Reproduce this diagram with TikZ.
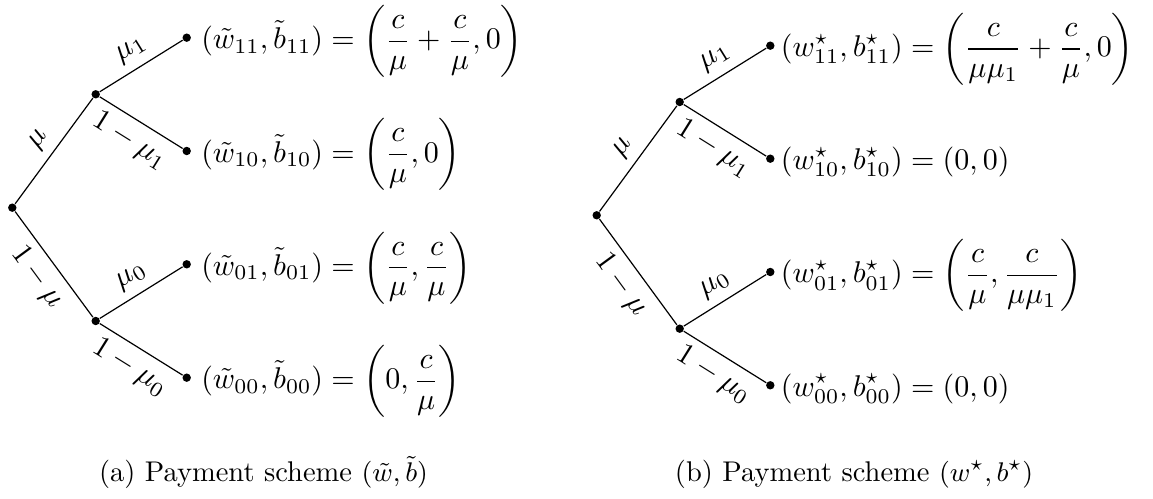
\documentclass[tikz,border=0pt]{standalone}
\usepackage{amsmath}
\begin{document}
\begin{tikzpicture}[x=0.3333pt,y=-0.3333pt,
  dot/.style={circle,fill,inner sep=0pt,minimum size=2.8pt},
  edgelab/.style={inner sep=2.8pt},
  leaftext/.style={anchor=base west,inner sep=0pt},
  captext/.style={anchor=base,inner sep=0pt,font=\fontsize{9.5}{11.5}\selectfont}]
\useasboundingbox (0,0) rectangle (1153,499);
% ---------- left tree ----------
\node[dot] (lr) at (12.3,207.7) {};
\node[dot] (lu) at (95.7,94.3) {};
\node[dot] (ld) at (95.7,321) {};
\node[dot] (l11) at (186.7,37.7) {};
\node[dot] (l10) at (186.7,151) {};
\node[dot] (l01) at (186.7,264.3) {};
\node[dot] (l00) at (186.7,377.7) {};
\draw (lr) -- node[midway,above,sloped,edgelab]{$\mu$} (lu);
\draw (lr) -- node[midway,below,sloped,edgelab]{$1-\mu$} (ld);
\draw (lu) -- node[midway,above,sloped,edgelab]{$\mu_1$} (l11);
\draw (lu) -- node[midway,below,sloped,edgelab]{$1-\mu_1$} (l10);
\draw (ld) -- node[midway,above,sloped,edgelab]{$\mu_0$} (l01);
\draw (ld) -- node[midway,below,sloped,edgelab]{$1-\mu_0$} (l00);
\node[leaftext] (t11) at ([shift={(14,11.1)}]l11.center) {$\displaystyle(\tilde w_{11},\tilde b_{11})=\left(\frac{c}{\mu}+\frac{c}{\mu},0\right)$};
\node[leaftext] (t10) at ([shift={(14,11.1)}]l10.center) {$\displaystyle(\tilde w_{10},\tilde b_{10})=\left(\frac{c}{\mu},0\right)$};
\node[leaftext] (t01) at ([shift={(14,11.1)}]l01.center) {$\displaystyle(\tilde w_{01},\tilde b_{01})=\left(\frac{c}{\mu},\frac{c}{\mu}\right)$};
\node[leaftext] (t00) at ([shift={(14,11.1)}]l00.center) {$\displaystyle(\tilde w_{00},\tilde b_{00})=\left(0,\frac{c}{\mu}\right)$};
% ---------- right tree ----------
\node[dot] (rr) at (596.7,215.3) {};
\node[dot] (ru) at (679.7,102) {};
\node[dot] (rd) at (679.7,328.7) {};
\node[dot] (r11) at (770.3,45.7) {};
\node[dot] (r10) at (770.3,158.7) {};
\node[dot] (r01) at (770.3,272) {};
\node[dot] (r00) at (770.3,385.3) {};
\draw (rr) -- node[midway,above,sloped,edgelab]{$\mu$} (ru);
\draw (rr) -- node[midway,below,sloped,edgelab]{$1-\mu$} (rd);
\draw (ru) -- node[midway,above,sloped,edgelab]{$\mu_1$} (r11);
\draw (ru) -- node[midway,below,sloped,edgelab]{$1-\mu_1$} (r10);
\draw (rd) -- node[midway,above,sloped,edgelab]{$\mu_0$} (r01);
\draw (rd) -- node[midway,below,sloped,edgelab]{$1-\mu_0$} (r00);
\node[leaftext] (s11) at ([shift={(10,10.8)}]r11.center) {$\displaystyle(w^\star_{11},b^\star_{11})=\left(\frac{c}{\mu\mu_1}+\frac{c}{\mu},0\right)$};
\node[leaftext] (s10) at ([shift={(10,10.8)}]r10.center) {$\displaystyle(w^\star_{10},b^\star_{10})=(0,0)$};
\node[leaftext] (s01) at ([shift={(10,10.8)}]r01.center) {$\displaystyle(w^\star_{01},b^\star_{01})=\left(\frac{c}{\mu},\frac{c}{\mu\mu_1}\right)$};
\node[leaftext] (s00) at ([shift={(10,10.8)}]r00.center) {$\displaystyle(w^\star_{00},b^\star_{00})=(0,0)$};
% ---------- captions ----------
\node[captext] (capa) at (263.5,482) {(a) Payment scheme $(\tilde w,\tilde b)$};
\node[captext] (capb) at (854,482) {(b) Payment scheme $(w^\star,b^\star)$};
\end{tikzpicture}
\end{document}
